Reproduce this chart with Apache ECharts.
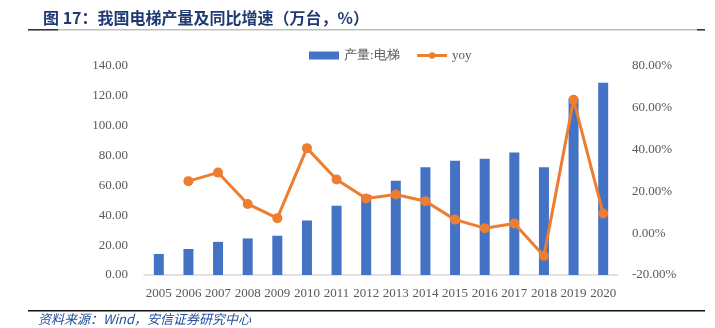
<!DOCTYPE html>
<html><head><meta charset="utf-8">
<script src="https://cdn.jsdelivr.net/npm/echarts@6/dist/echarts.min.js"></script>
<style>html,body{margin:0;padding:0;background:#fff;}#c{width:715px;height:328px;}</style>
</head><body><div id="c"></div>
<script>
const categories = ['2005','2006','2007','2008','2009','2010','2011','2012','2013','2014','2015','2016','2017','2018','2019','2020'];
const production = [14.1, 17.4, 22.2, 24.5, 26.3, 36.5, 46.4, 53.7, 63.1, 72.2, 76.5, 77.8, 82.0, 72.2, 118.0, 128.8];
const yoy = [null, 24.9, 29.0, 14.0, 7.2, 40.7, 25.7, 16.6, 18.5, 15.3, 6.5, 2.4, 4.6, -10.9, 63.8, 9.4];
const leftTicks = {min: 0, max: 140, interval: 20};
const rightTicks = {min: -20, max: 80, interval: 20};
const titleText = '图 17：我国电梯产量及同比增速（万台，%）';

const chart = echarts.init(document.getElementById('c'));
const axisFont = {color: '#595959', fontSize: 13, fontFamily: 'Liberation Serif'};
chart.setOption({
  animation: false,
  title: {
    text: titleText,
    left: 38, top: 5,
    textStyle: {color: '#1F3A73', fontSize: 16, fontWeight: 'bold', fontFamily: 'Noto Sans CJK SC'}
  },
  graphic: [
    {type: 'rect', shape: {x: 28, y: 29, width: 677, height: 1.5}, style: {fill: '#bfbfbf'}},
    {type: 'rect', shape: {x: 28, y: 29, width: 30, height: 1.5}, style: {fill: '#333'}},
    {type: 'rect', shape: {x: 697, y: 29, width: 8, height: 1.5}, style: {fill: '#333'}},
    {type: 'rect', shape: {x: 28, y: 310, width: 677, height: 1.5}, style: {fill: '#111'}},
    {type: 'text', left: 38, top: 313, style: {text: '资料来源：Wind，安信证券研究中心', fill: '#1F4E9A', fontSize: 13, fontStyle: 'italic', fontFamily: 'Noto Sans CJK SC'}}
  ],
  legend: {
    top: 44, left: 304,
    itemWidth: 30, itemHeight: 8, itemGap: 16,
    textStyle: {color: '#595959', fontSize: 13, fontFamily: 'Liberation Serif'},
    data: [{name: '产量:电梯', icon: 'rect'}, {name: 'yoy', lineStyle: {width: 3}}]
  },
  grid: {left: 144, right: 97, top: 66, bottom: 53},
  xAxis: {
    type: 'category', data: categories,
    axisLine: {lineStyle: {color: '#d9d9d9', width: 1.5}},
    axisTick: {show: false},
    axisLabel: Object.assign({margin: 12, interval: 0}, axisFont)
  },
  yAxis: [
    {type: 'value', min: leftTicks.min, max: leftTicks.max, interval: leftTicks.interval,
     splitLine: {show: false}, axisLine: {show: false}, axisTick: {show: false},
     axisLabel: Object.assign({margin: 16, formatter: v => v.toFixed(2)}, axisFont)},
    {type: 'value', min: rightTicks.min, max: rightTicks.max, interval: rightTicks.interval,
     splitLine: {show: false}, axisLine: {show: false}, axisTick: {show: false},
     axisLabel: Object.assign({margin: 14, formatter: v => v.toFixed(2) + '%'}, axisFont)}
  ],
  series: [
    {name: '产量:电梯', type: 'bar', data: production, barWidth: 10,
     itemStyle: {color: '#4472C4'}},
    {name: 'yoy', type: 'line', yAxisIndex: 1, data: yoy,
     lineStyle: {color: '#ED7D31', width: 3}, itemStyle: {color: '#ED7D31'},
     symbol: 'circle', symbolSize: 10, connectNulls: false}
  ]
});
</script></body></html>
